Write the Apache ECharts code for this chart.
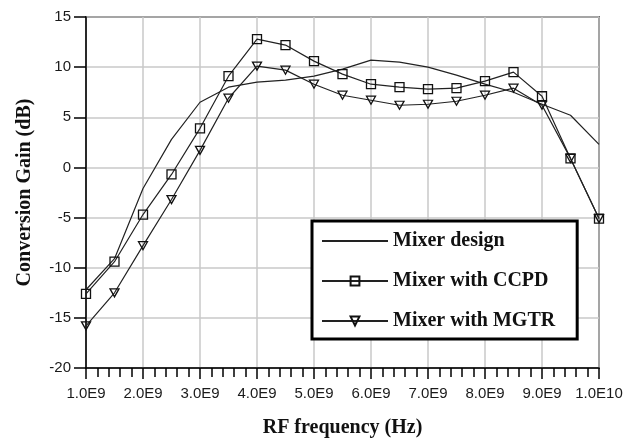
<!DOCTYPE html>
<html>
<head>
<meta charset="utf-8">
<script src="https://cdn.jsdelivr.net/npm/echarts@6/dist/echarts.min.js"></script>
<style>
  html, body { margin: 0; padding: 0; background: #fff; }
  #chart { width: 640px; height: 444px; }
</style>
</head>
<body>
<div id="chart"></div>
<script>
// RF frequency (Hz)
var freq = [1.0e9, 1.5e9, 2.0e9, 2.5e9, 3.0e9, 3.5e9, 4.0e9, 4.5e9, 5.0e9, 5.5e9,
            6.0e9, 6.5e9, 7.0e9, 7.5e9, 8.0e9, 8.5e9, 9.0e9, 9.5e9, 1.0e10];
// conversion gain (dB)
var mixerDesign = [-12.2, -9.1, -2.1, 2.8, 6.5, 8.0, 8.5, 8.7, 9.1, 9.8,
                   10.7, 10.5, 10.0, 9.2, 8.3, 7.5, 6.3, 5.2, 2.3];
var mixerCCPD = [-12.6, -9.4, -4.7, -0.7, 3.9, 9.1, 12.8, 12.2, 10.6, 9.3,
                 8.3, 8.0, 7.8, 7.9, 8.6, 9.5, 7.1, 0.9, -5.1];
var mixerMGTR = [-15.8, -12.5, -7.8, -3.2, 1.7, 6.9, 10.1, 9.7, 8.3, 7.2,
                 6.7, 6.2, 6.3, 6.6, 7.2, 7.9, 6.2, 0.9, -5.1];
var seriesNames = ['Mixer design', 'Mixer with CCPD', 'Mixer with MGTR'];

function pairs(ys) {
    return freq.map(function (f, i) { return [f, ys[i]]; });
}

var serif = '"Liberation Serif", "Times New Roman", serif';
var sans = '"Liberation Sans", Arial, sans-serif';
var triDown = 'path://M0,0 L10,0 L5,9 Z';

var chart = echarts.init(document.getElementById('chart'), null, { renderer: 'canvas' });
var option = {
    animation: false,
    backgroundColor: '#fff',
    grid: {
        left: 86, right: 41, top: 17, bottom: 76,
        show: true, borderColor: '#000', borderWidth: 1.5,
        backgroundColor: 'transparent'
    },
    legend: {
        data: [
            // plain line in the legend, no marker
            { name: seriesNames[0], itemStyle: { color: 'rgba(0,0,0,0)', borderWidth: 0 } },
            seriesNames[1],
            seriesNames[2]
        ],
        orient: 'vertical',
        left: 312,
        top: 221,
        backgroundColor: '#fff',
        borderColor: '#000',
        borderWidth: 3,
        padding: [10, 22, 8, 9],
        itemWidth: 66,
        itemHeight: 11,
        itemGap: 20,
        textStyle: { fontFamily: serif, fontWeight: 'bold', fontSize: 20, color: '#111' }
    },
    xAxis: {
        type: 'value',
        min: 1e9,
        max: 1e10,
        interval: 1e9,
        name: 'RF frequency (Hz)',
        nameLocation: 'middle',
        nameGap: 50,
        nameTextStyle: { fontFamily: serif, fontWeight: 'bold', fontSize: 20, color: '#111' },
        axisLine: { onZero: false, lineStyle: { color: '#000', width: 1.5 } },
        axisTick: { show: true, inside: false, length: 11, lineStyle: { color: '#000', width: 1.5 } },
        minorTick: { show: true, splitNumber: 5, length: 9, lineStyle: { color: '#000', width: 1.5 } },
        axisLabel: {
            margin: 18,
            fontFamily: sans, fontSize: 15, color: '#1a1a1a',
            formatter: function (v) {
                if (v >= 1e10) return '1.0E10';
                return (v / 1e9).toFixed(1) + 'E9';
            }
        },
        splitLine: { show: true, lineStyle: { color: '#c8c8c8', width: 1.5 } }
    },
    yAxis: {
        type: 'value',
        min: -20,
        max: 15,
        interval: 5,
        name: 'Conversion Gain (dB)',
        nameLocation: 'middle',
        nameGap: 51,
        nameTextStyle: { fontFamily: serif, fontWeight: 'bold', fontSize: 20, color: '#111' },
        axisLine: { show: true, onZero: false, lineStyle: { color: '#000', width: 1.5 } },
        axisTick: { show: true, inside: false, length: 12, lineStyle: { color: '#000', width: 1.5 } },
        axisLabel: { margin: 15, fontFamily: sans, fontSize: 15, color: '#1a1a1a' },
        splitLine: { show: true, lineStyle: { color: '#c8c8c8', width: 1.5 } }
    },
    series: [
        {
            name: seriesNames[0],
            type: 'line',
            data: pairs(mixerDesign),
            symbol: 'none',
            lineStyle: { color: '#222', width: 1.2 },
            itemStyle: { color: '#222' }
        },
        {
            name: seriesNames[1],
            type: 'line',
            data: pairs(mixerCCPD),
            symbol: 'rect',
            symbolSize: 9,
            lineStyle: { color: '#222', width: 1.2 },
            itemStyle: { color: 'rgba(0,0,0,0)', borderColor: '#111', borderWidth: 1.3 }
        },
        {
            name: seriesNames[2],
            type: 'line',
            data: pairs(mixerMGTR),
            symbol: triDown,
            symbolSize: [9, 8],
            lineStyle: { color: '#222', width: 1.2 },
            itemStyle: { color: 'rgba(0,0,0,0)', borderColor: '#111', borderWidth: 1.3 }
        }
    ]
};
chart.setOption(option);
</script>
</body>
</html>
